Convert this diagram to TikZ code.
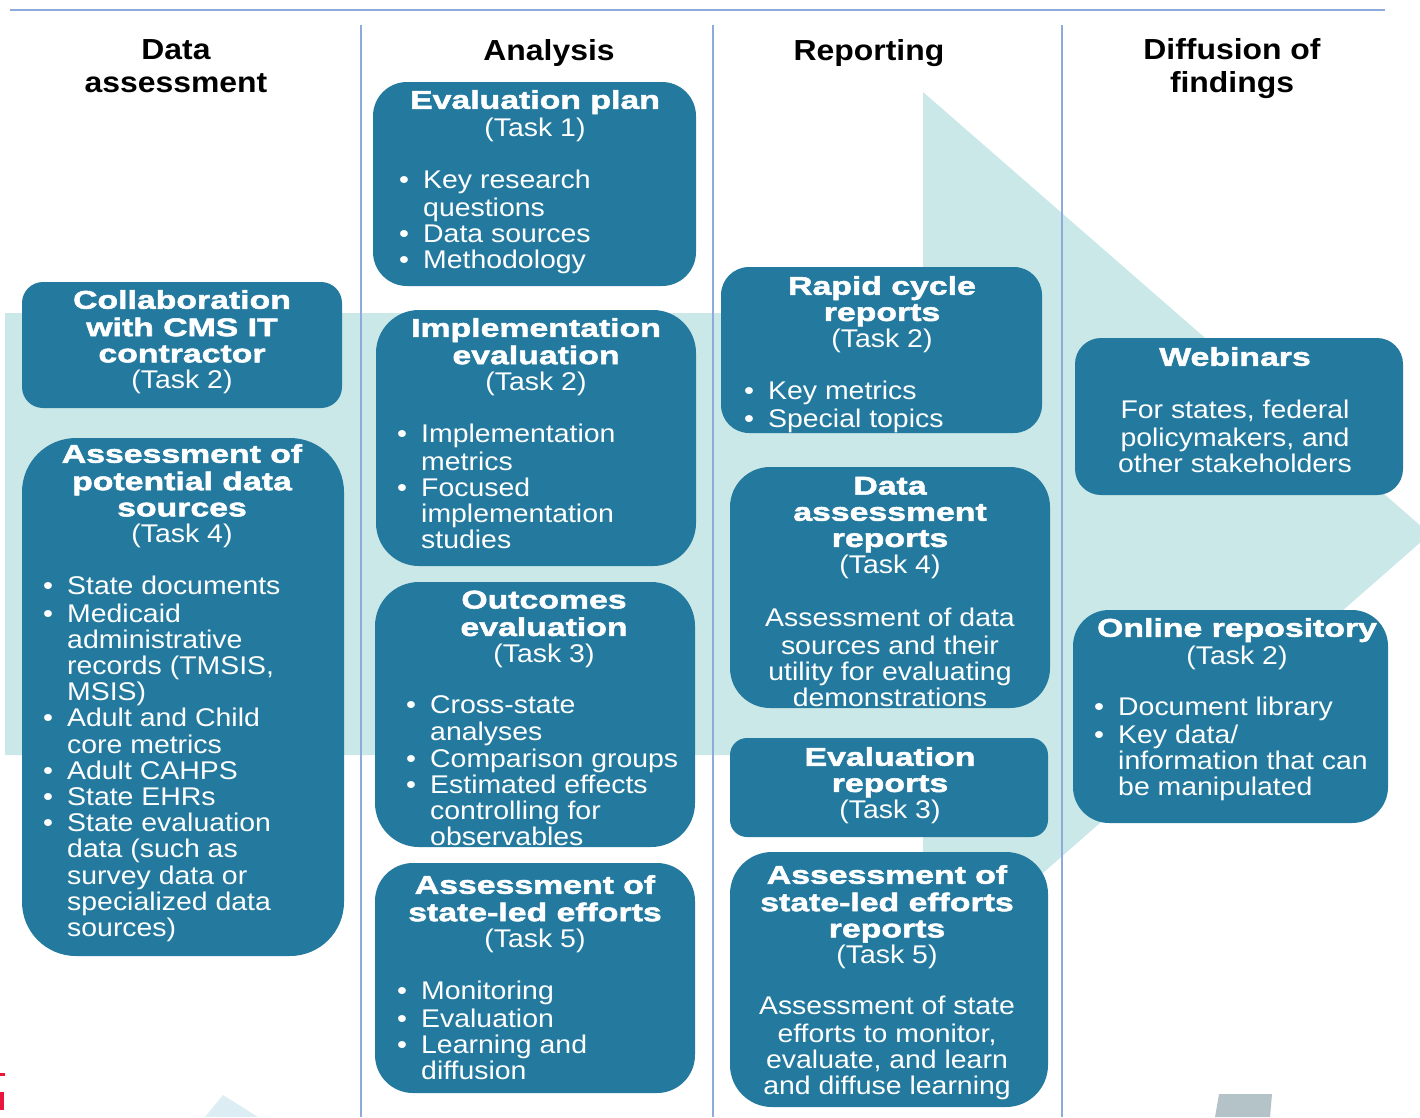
\documentclass[tikz,border=0pt]{standalone}
\usepackage{fontspec}
\setmainfont{Liberation Sans}[FakeStretch=1.11]
\newfontfamily\titlefont{Liberation Sans}[FakeStretch=1.32,FakeBold=2]
\newfontfamily\headfont{Liberation Sans}[FakeStretch=1.1]
\usetikzlibrary{fit}
\definecolor{boxteal}{RGB}{36,122,158}
\definecolor{arrowlight}{RGB}{203,232,232}
\definecolor{sepblue}{RGB}{142,170,219}
\definecolor{palecyan}{RGB}{220,238,244}
\definecolor{slategray}{RGB}{180,195,200}
\definecolor{markred}{RGB}{232,22,60}
\newcommand{\bodysize}{\fontsize{25.6}{26.2}\selectfont}
\newcommand{\bl}{\makebox[24pt][l]{\textbullet}}
\newcommand{\cl}{\makebox[24pt][l]{}}
\newcommand{\task}[1]{{\normalfont\bodysize (Task #1)}}

\begin{document}
\begin{tikzpicture}[x=1pt,y=-1pt]
\tikzset{tealbox/.style={fill=boxteal, rounded corners=#1, inner sep=0pt}}
\tikzset{titletext/.style={anchor=north, align=center, inner sep=0pt, text=white,
  font=\titlefont\bfseries\bodysize}}
\tikzset{bodytext/.style={anchor=north, align=center, inner sep=0pt, text=white,
  font=\bodysize}}
\tikzset{bullettext/.style={anchor=north west, align=left, inner sep=0pt, text=white,
  font=\bodysize}}
\tikzset{headtext/.style={anchor=north, align=center, inner sep=0pt,
  font=\headfont\bfseries\fontsize{29}{33}\selectfont}}
\tikzset{sepline/.style={draw=sepblue, line width=1.5pt}}

\useasboundingbox (0,0) rectangle (1420,1117);
\clip (0,0) rectangle (1420,1117);

\fill[arrowlight] (5,313) -- (923,313) -- (923,92) -- (1430,534) -- (923,978) -- (923,755) -- (5,755) -- cycle;
\fill[palecyan] (205,1117) -- (223,1095) -- (258,1117) -- cycle;
\fill[slategray] (1219,1094) -- (1272,1094) -- (1270,1117) -- (1215,1117) -- cycle;
\fill[markred] (0,1073) rectangle (5,1076);
\fill[markred] (0,1092) rectangle (4,1110);

\draw[sepline] (10,10) -- (1385,10);
\foreach \x in {361,713,1062}
  \draw[sepline] (\x,25) -- (\x,1117);

\node[headtext](hdata)at(176,36.5){\strut Data\\assessment};
\node[headtext](hanalysis)at(549,37.5){\strut Analysis};
\node[headtext](hreport)at(869,37.5){\strut Reporting};
\node[headtext](hdiffuse)at(1232,36.5){\strut Diffusion of\\findings};

\node[tealbox=21pt, fit={(22,282) (342,408)}](collab){};
\node[tealbox=54pt, fit={(22,438) (344,956)}](potdata){};
\node[tealbox=34pt, fit={(373,82) (696,286)}](evalplan){};
\node[tealbox=43pt, fit={(376,310) (696,566)}](impleval){};
\node[tealbox=44pt, fit={(375,582) (695,847)}](outcomes){};
\node[tealbox=38pt, fit={(375,863) (695,1093)}](stateled){};
\node[tealbox=28pt, fit={(721,267) (1042,433)}](rapid){};
\node[tealbox=40pt, fit={(730,467) (1050,708)}](dataassess){};
\node[tealbox=17pt, fit={(730,738) (1048,837)}](evalrep){};
\node[tealbox=42pt, fit={(730,852) (1048,1107)}](stateledrep){};
\node[tealbox=26pt, fit={(1075,338) (1403,495)}](webinars){};
\node[tealbox=36pt, fit={(1073,610) (1388,823)}](repository){};

\node[titletext](collabtitle)at(182,290){\strut Collaboration\\with CMS IT\\contractor\\\task{2}};

\node[titletext](potdatatitle)at(182,444){\strut Assessment of\\potential data\\sources\\\task{4}};
\node[bullettext](potdatalist)at(43,576){\strut\bl State documents\\
\bl Medicaid\\
\cl administrative\\
\cl records (TMSIS,\\
\cl MSIS)\\
\bl Adult and Child\\
\cl core metrics\\
\bl Adult CAHPS\\
\bl State EHRs\\
\bl State evaluation\\
\cl data (such as\\
\cl survey data or\\
\cl specialized data\\
\cl sources)};

\node[titletext](evalplantitle)at(535,90){\strut Evaluation plan\\\task{1}};
\node[bullettext](evalplanlist)at(399,170){\strut\bl Key research\\
\cl questions\\
\bl Data sources\\
\bl Methodology};

\node[titletext](implevaltitle)at(536,318){\strut Implementation\\evaluation\\\task{2}};
\node[bullettext](implevallist)at(397,424){\strut\bl Implementation\\
\cl metrics\\
\bl Focused\\
\cl implementation\\
\cl studies};

\node[titletext](outcomestitle)at(544,590){\strut Outcomes\\evaluation\\\task{3}};
\node[bullettext](outcomeslist)at(406,695){\strut\bl Cross-state\\
\cl analyses\\
\bl Comparison groups\\
\bl Estimated effects\\
\cl controlling for\\
\cl observables};

\node[titletext](stateledtitle)at(535,875){\strut Assessment of\\state-led efforts\\\task{5}};
\node[bullettext](stateledlist)at(397,981){\strut\bl Monitoring\\
\bl Evaluation\\
\bl Learning and\\
\cl diffusion};

\node[titletext](rapidtitle)at(882,276){\strut Rapid cycle\\reports\\\task{2}};
\node[bullettext](rapidlist)at(744,381){\strut\bl Key metrics\\
\bl Special topics};

\node[titletext](dataassesstitle)at(890,476){\strut Data\\assessment\\reports\\\task{4}};
\node[bodytext](dataassesstext)at(890,608){\strut Assessment of data\\sources and their\\utility for evaluating\\demonstrations};

\node[titletext](evalreptitle)at(890,747){\strut Evaluation\\reports\\\task{3}};

\node[titletext](stateledreptitle)at(887,865){\strut Assessment of\\state-led efforts\\reports\\\task{5}};
\node[bodytext](stateledreptext)at(887,996){\strut Assessment of state\\efforts to monitor,\\evaluate, and learn\\and diffuse learning};

\node[titletext](webinarstitle)at(1235,347){\strut Webinars};
\node[bodytext](webinarstext)at(1235,400){\strut For states, federal\\policymakers, and\\other stakeholders};

\node[titletext](repositorytitle)at(1237,618){\strut Online repository\\\task{2}};
\node[bullettext](repositorylist)at(1094,697){\strut\bl Document library\\
\bl Key data/\\
\cl information that can\\
\cl be manipulated};
\end{tikzpicture}
\end{document}
